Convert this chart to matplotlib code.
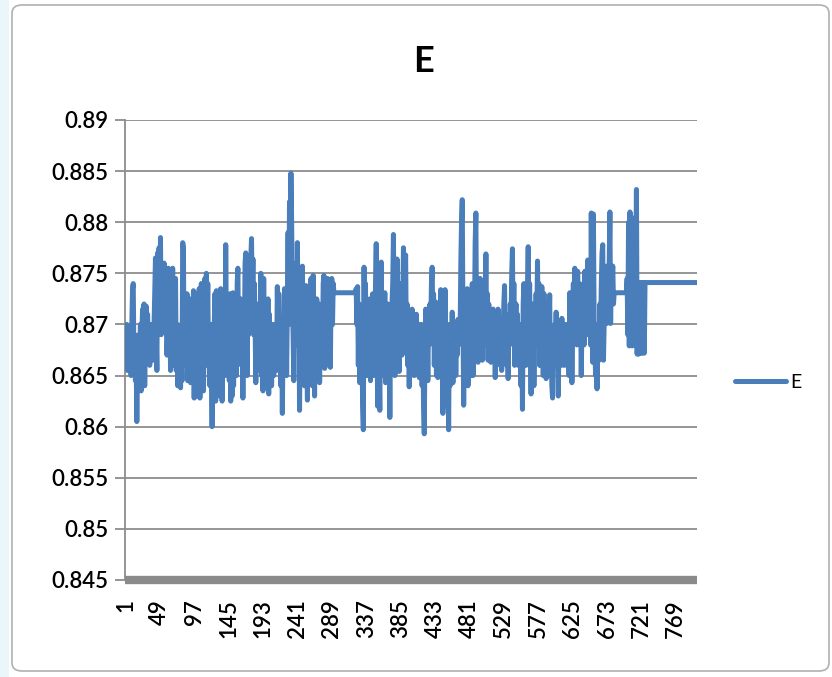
import numpy as np
import matplotlib
matplotlib.use("Agg")
import matplotlib.pyplot as plt
from matplotlib.patches import FancyBboxPatch, Rectangle

# ---------------- data ----------------
series_name = "E"
chart_title = "E"

e_values = [
    # 1-20
    0.8690, 0.8665, 0.8700, 0.8655, 0.8685, 0.8660, 0.8695, 0.8670, 0.8650, 0.8700,
    0.8735, 0.8740, 0.8665, 0.8690, 0.8645, 0.8670, 0.8605, 0.8660, 0.8640, 0.8690,
    # 21-40
    0.8665, 0.8700, 0.8635, 0.8690, 0.8715, 0.8660, 0.8720, 0.8640, 0.8700, 0.8718,
    0.8665, 0.8710, 0.8680, 0.8695, 0.8660, 0.8700, 0.8670, 0.8690, 0.8675, 0.8665,
    # 41-60
    0.8700, 0.8735, 0.8765, 0.8690, 0.8655, 0.8770, 0.8720, 0.8775, 0.8700, 0.8785,
    0.8690, 0.8750, 0.8725, 0.8710, 0.8760, 0.8695, 0.8745, 0.8705, 0.8670, 0.8690,
    # 61-80
    0.8755, 0.8670, 0.8740, 0.8655, 0.8750, 0.8690, 0.8755, 0.8660, 0.8720, 0.8680,
    0.8745, 0.8655, 0.8700, 0.8640, 0.8690, 0.8650, 0.8680, 0.8638, 0.8700, 0.8645,
    # 81-100
    0.8780, 0.8775, 0.8660, 0.8700, 0.8665, 0.8690, 0.8730, 0.8645, 0.8710, 0.8660,
    0.8725, 0.8643, 0.8700, 0.8680, 0.8650, 0.8733, 0.8628, 0.8710, 0.8640, 0.8730,
    # 101-120
    0.8630, 0.8720, 0.8665, 0.8735, 0.8628, 0.8700, 0.8740, 0.8650, 0.8715, 0.8635,
    0.8690, 0.8745, 0.8660, 0.8750, 0.8700, 0.8740, 0.8660, 0.8680, 0.8640, 0.8700,
    # 121-140
    0.8660, 0.8600, 0.8690, 0.8640, 0.8700, 0.8730, 0.8625, 0.8733, 0.8660, 0.8715,
    0.8640, 0.8700, 0.8630, 0.8735, 0.8680, 0.8625, 0.8720, 0.8660, 0.8700, 0.8650,
    # 141-160
    0.8778, 0.8690, 0.8720, 0.8660, 0.8700, 0.8645, 0.8730, 0.8625, 0.8715, 0.8630,
    0.8731, 0.8640, 0.8700, 0.8670, 0.8720, 0.8650, 0.8740, 0.8755, 0.8665, 0.8700,
    # 161-180
    0.8690, 0.8725, 0.8660, 0.8700, 0.8628, 0.8710, 0.8680, 0.8760, 0.8770, 0.8690,
    0.8650, 0.8740, 0.8690, 0.8755, 0.8700, 0.8765, 0.8784, 0.8720, 0.8764, 0.8690,
    # 181-200
    0.8740, 0.8700, 0.8643, 0.8720, 0.8670, 0.8700, 0.8655, 0.8710, 0.8680, 0.8750,
    0.8650, 0.8735, 0.8635, 0.8745, 0.8660, 0.8720, 0.8640, 0.8700, 0.8670, 0.8725,
    # 201-220
    0.8632, 0.8710, 0.8660, 0.8690, 0.8640, 0.8685, 0.8700, 0.8650, 0.8690, 0.8665,
    0.8700, 0.8655, 0.8737, 0.8680, 0.8730, 0.8660, 0.8700, 0.8640, 0.8690, 0.8613,
    # 221-240
    0.8680, 0.8700, 0.8735, 0.8665, 0.8710, 0.8650, 0.8720, 0.8790, 0.8700, 0.8820,
    0.8760, 0.8848, 0.8800, 0.8720, 0.8690, 0.8645, 0.8740, 0.8700, 0.8760, 0.8680,
    # 241-260
    0.8780, 0.8700, 0.8740, 0.8616, 0.8690, 0.8660, 0.8720, 0.8757, 0.8650, 0.8710,
    0.8640, 0.8700, 0.8738, 0.8670, 0.8626, 0.8700, 0.8660, 0.8720, 0.8650, 0.8745,
    # 261-280
    0.8690, 0.8640, 0.8748, 0.8680, 0.8630, 0.8710, 0.8660, 0.8725, 0.8690, 0.8650,
    0.8720, 0.8643, 0.8700, 0.8660, 0.8715, 0.8680, 0.8740, 0.8748, 0.8657, 0.8700,
    # 281-300
    0.8740, 0.8690, 0.8745, 0.8735, 0.8660, 0.8742, 0.8658, 0.8730, 0.8745, 0.8700,
    0.8740, 0.8731, 0.8731, 0.8731, 0.8731, 0.8731, 0.8731, 0.8731, 0.8731, 0.8731,
    # 301-320
    0.8731, 0.8731, 0.8731, 0.8731, 0.8731, 0.8731, 0.8731, 0.8731, 0.8731, 0.8731,
    0.8731, 0.8731, 0.8731, 0.8731, 0.8731, 0.8731, 0.8731, 0.8731, 0.8731, 0.8731,
    # 321-340
    0.8731, 0.8731, 0.8735, 0.8700, 0.8737, 0.8660, 0.8720, 0.8643, 0.8700, 0.8655,
    0.8690, 0.8620, 0.8597, 0.8756, 0.8680, 0.8740, 0.8650, 0.8720, 0.8660, 0.8700,
    # 341-360
    0.8650, 0.8725, 0.8645, 0.8700, 0.8680, 0.8730, 0.8650, 0.8710, 0.8670, 0.8740,
    0.8779, 0.8690, 0.8620, 0.8700, 0.8660, 0.8616, 0.8700, 0.8761, 0.8680, 0.8720,
    # 361-380
    0.8650, 0.8700, 0.8731, 0.8643, 0.8710, 0.8670, 0.8720, 0.8650, 0.8690, 0.8609,
    0.8700, 0.8660, 0.8720, 0.8740, 0.8788, 0.8700, 0.8650, 0.8730, 0.8680, 0.8764,
    # 381-400
    0.8660, 0.8720, 0.8654, 0.8700, 0.8690, 0.8740, 0.8670, 0.8720, 0.8775, 0.8700,
    0.8750, 0.8768, 0.8680, 0.8720, 0.8660, 0.8700, 0.8639, 0.8690, 0.8650, 0.8700,
    # 401-420
    0.8715, 0.8660, 0.8700, 0.8650, 0.8690, 0.8670, 0.8710, 0.8680, 0.8660, 0.8700,
    0.8648, 0.8695, 0.8660, 0.8700, 0.8640, 0.8690, 0.8620, 0.8593, 0.8680, 0.8715,
    # 421-440
    0.8660, 0.8700, 0.8645, 0.8710, 0.8680, 0.8720, 0.8690, 0.8740, 0.8756, 0.8700,
    0.8730, 0.8660, 0.8700, 0.8722, 0.8650, 0.8700, 0.8648, 0.8690, 0.8660, 0.8700,
    # 441-460
    0.8734, 0.8650, 0.8730, 0.8613, 0.8720, 0.8660, 0.8734, 0.8630, 0.8700, 0.8620,
    0.8690, 0.8597, 0.8700, 0.8640, 0.8690, 0.8660, 0.8712, 0.8643, 0.8700, 0.8660,
    # 461-480
    0.8700, 0.8650, 0.8690, 0.8670, 0.8705, 0.8680, 0.8700, 0.8690, 0.8760, 0.8800,
    0.8822, 0.8700, 0.8621, 0.8690, 0.8720, 0.8660, 0.8700, 0.8735, 0.8640, 0.8710,
    # 481-500
    0.8660, 0.8730, 0.8650, 0.8700, 0.8740, 0.8650, 0.8720, 0.8700, 0.8780, 0.8809,
    0.8690, 0.8740, 0.8663, 0.8720, 0.8700, 0.8745, 0.8670, 0.8720, 0.8665, 0.8710,
    # 501-520
    0.8690, 0.8740, 0.8700, 0.8769, 0.8680, 0.8730, 0.8665, 0.8720, 0.8680, 0.8710,
    0.8663, 0.8700, 0.8670, 0.8715, 0.8680, 0.8700, 0.8648, 0.8690, 0.8670, 0.8700,
    # 521-540
    0.8715, 0.8680, 0.8700, 0.8660, 0.8705, 0.8655, 0.8700, 0.8690, 0.8720, 0.8738,
    0.8680, 0.8710, 0.8660, 0.8690, 0.8647, 0.8700, 0.8680, 0.8720, 0.8700, 0.8750,
    # 541-560
    0.8774, 0.8690, 0.8740, 0.8660, 0.8700, 0.8720, 0.8665, 0.8710, 0.8660, 0.8700,
    0.8680, 0.8690, 0.8640, 0.8700, 0.8617, 0.8720, 0.8740, 0.8680, 0.8735, 0.8660,
    # 561-580
    0.8700, 0.8740, 0.8776, 0.8700, 0.8740, 0.8680, 0.8632, 0.8700, 0.8650, 0.8720,
    0.8640, 0.8700, 0.8680, 0.8730, 0.8700, 0.8762, 0.8690, 0.8740, 0.8660, 0.8720,
    # 581-600
    0.8660, 0.8737, 0.8690, 0.8650, 0.8730, 0.8670, 0.8720, 0.8647, 0.8700, 0.8680,
    0.8660, 0.8700, 0.8729, 0.8650, 0.8690, 0.8640, 0.8628, 0.8680, 0.8660, 0.8700,
    # 601-620
    0.8680, 0.8712, 0.8660, 0.8700, 0.8630, 0.8690, 0.8665, 0.8700, 0.8660, 0.8706,
    0.8680, 0.8690, 0.8660, 0.8700, 0.8670, 0.8690, 0.8660, 0.8700, 0.8690, 0.8650,
    # 621-640
    0.8731, 0.8660, 0.8720, 0.8643, 0.8700, 0.8740, 0.8690, 0.8755, 0.8700, 0.8745,
    0.8680, 0.8752, 0.8700, 0.8740, 0.8690, 0.8720, 0.8650, 0.8700, 0.8690, 0.8740,
    # 641-660
    0.8680, 0.8752, 0.8690, 0.8740, 0.8700, 0.8763, 0.8690, 0.8720, 0.8760, 0.8680,
    0.8809, 0.8700, 0.8663, 0.8808, 0.8700, 0.8680, 0.8650, 0.8700, 0.8637, 0.8690,
    # 661-680
    0.8700, 0.8665, 0.8720, 0.8690, 0.8740, 0.8770, 0.8778, 0.8665, 0.8700, 0.8750,
    0.8710, 0.8757, 0.8701, 0.8740, 0.8710, 0.8760, 0.8810, 0.8701, 0.8757, 0.8740,
    # 681-700
    0.8757, 0.8720, 0.8731, 0.8731, 0.8731, 0.8731, 0.8731, 0.8731, 0.8731, 0.8731,
    0.8731, 0.8731, 0.8731, 0.8731, 0.8731, 0.8731, 0.8731, 0.8731, 0.8731, 0.8731,
    # 701-720
    0.8745, 0.8690, 0.8800, 0.8679, 0.8810, 0.8680, 0.8805, 0.8679, 0.8790, 0.8685,
    0.8800, 0.8680, 0.8760, 0.8832, 0.8671, 0.8740, 0.8671, 0.8741, 0.8672, 0.8741,
    # 721-740
    0.8672, 0.8741, 0.8672, 0.8741, 0.8672, 0.8741, 0.8741, 0.8741, 0.8741, 0.8741,
    0.8741, 0.8741, 0.8741, 0.8741, 0.8741, 0.8741, 0.8741, 0.8741, 0.8741, 0.8741,
    # 741-760
    0.8741, 0.8741, 0.8741, 0.8741, 0.8741, 0.8741, 0.8741, 0.8741, 0.8741, 0.8741,
    0.8741, 0.8741, 0.8741, 0.8741, 0.8741, 0.8741, 0.8741, 0.8741, 0.8741, 0.8741,
    # 761-780
    0.8741, 0.8741, 0.8741, 0.8741, 0.8741, 0.8741, 0.8741, 0.8741, 0.8741, 0.8741,
    0.8741, 0.8741, 0.8741, 0.8741, 0.8741, 0.8741, 0.8741, 0.8741, 0.8741, 0.8741,
    # 781-798
    0.8741, 0.8741, 0.8741, 0.8741, 0.8741, 0.8741, 0.8741, 0.8741, 0.8741, 0.8741,
    0.8741, 0.8741, 0.8741, 0.8741, 0.8741, 0.8741, 0.8741, 0.8741,
]

x_tick_values = [1, 49, 97, 145, 193, 241, 289, 337, 385, 433, 481, 529, 577, 625, 673, 721, 769]
y_tick_values = [0.845, 0.85, 0.855, 0.86, 0.865, 0.87, 0.875, 0.88, 0.885, 0.89]
y_tick_labels = ["0.845", "0.85", "0.855", "0.86", "0.865", "0.87", "0.875", "0.88", "0.885", "0.89"]

# ---------------- figure ----------------
W, H = 832, 677
plt.rcParams['font.family'] = ['Lato', 'DejaVu Sans']
fig = plt.figure(figsize=(W / 100, H / 100), dpi=100)
fig.patch.set_facecolor('white')

# sheet strip on the left and the rounded chart frame (behind the axes)
fig.add_artist(Rectangle((0, 0), 9 / W, 1, transform=fig.transFigure,
                         facecolor='#eaf6fa', edgecolor='none', zorder=-3))
fig.add_artist(FancyBboxPatch((12 / W, 6 / H), (W - 3) / W - 12 / W, (H - 11) / H,
                              boxstyle="round,pad=0,rounding_size=0.012",
                              transform=fig.transFigure, facecolor='white',
                              edgecolor='#b0b0b0', linewidth=1.2, zorder=-2))

ax = fig.add_axes([125 / W, 1 - 580 / H, (697 - 125) / W, (580 - 120) / H])
ax.set_facecolor('none')

n = len(e_values)
x = np.arange(1, n + 1)
line, = ax.plot(x, e_values, color='#4a7ebb', linewidth=3.6,
                solid_joinstyle='round', solid_capstyle='round',
                label=series_name, zorder=3)

ax.set_xlim(0.5, n + 0.5)
ax.set_ylim(0.845, 0.89)

ax.set_yticks(y_tick_values)
ax.set_yticklabels(y_tick_labels)
ax.set_xticks(x_tick_values)
ax.set_xticklabels([str(v) for v in x_tick_values], rotation=90, va='top', ha='center')

ax.yaxis.grid(True, color='#8c8c8c', linewidth=1.3)
ax.set_axisbelow(True)

for s in ['top', 'right']:
    ax.spines[s].set_visible(False)
ax.spines['left'].set_color('#8c8c8c')
ax.spines['left'].set_linewidth(1.3)
ax.spines['bottom'].set_color('#8a8a8a')
ax.spines['bottom'].set_linewidth(6)
ax.spines['bottom'].set_capstyle('butt')

ax.tick_params(axis='y', direction='out', length=7, width=1.3, color='#8c8c8c',
               labelsize=16, labelcolor='#000000', pad=5)
ax.tick_params(axis='x', length=0, labelsize=16, labelcolor='#000000', pad=14)
for lbl in ax.get_xticklabels() + ax.get_yticklabels():
    lbl.set_fontweight('semibold')

fig.text(424 / W, 1 - 61 / H, chart_title, ha='center', va='center',
         fontsize=26, fontweight='bold', color='#000000')

leg = fig.legend(handles=[line], loc='center left',
                 bbox_to_anchor=(735 / W, 1 - 382 / H), frameon=False,
                 fontsize=14, handlelength=2.6, handletextpad=0.25,
                 borderpad=0, borderaxespad=0)

fig.savefig('out.png', dpi=100)
